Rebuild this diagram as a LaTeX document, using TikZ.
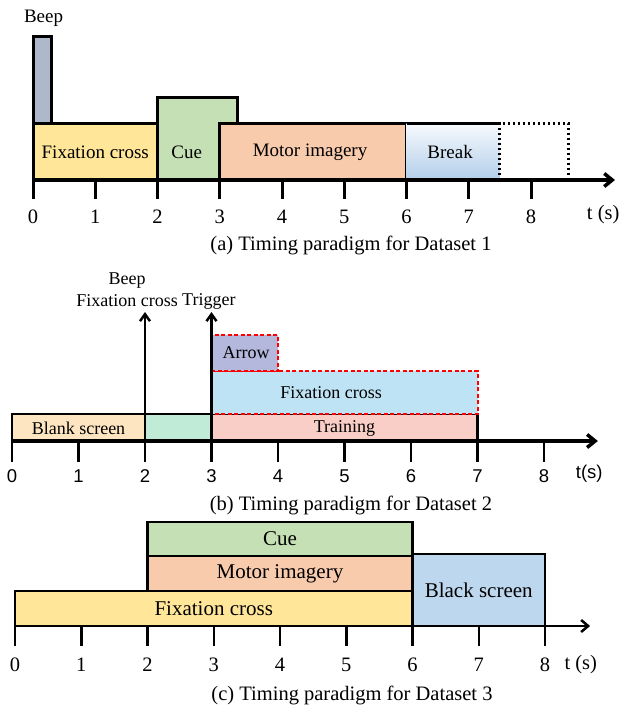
\documentclass[tikz,border=0pt]{standalone}
\usepackage{fontspec}
\setmainfont{Liberation Serif}
\setsansfont{Liberation Sans}
\usetikzlibrary{arrows.meta}

\definecolor{beepgray}{HTML}{ADB9CA}
\definecolor{fixyellow}{HTML}{FFE699}
\definecolor{cuegreen}{HTML}{C5E0B4}
\definecolor{mipeach}{HTML}{F8CBAD}
\definecolor{breakblue}{HTML}{B2CEEA}
\definecolor{blankorange}{HTML}{FDE5C2}
\definecolor{mint}{HTML}{C0EBD6}
\definecolor{trainpink}{HTML}{F8CEC6}
\definecolor{fixblue}{HTML}{BEE3F4}
\definecolor{arrowlav}{HTML}{B3B8DC}
\definecolor{bsblue}{HTML}{BDD7EE}

\begin{document}
\begin{tikzpicture}[%
>={Straight Barb[length=8pt,width=13pt]},
x=1pt, y=-1pt,
lbla/.style={font=\fontsize{19}{22}\selectfont},
lblb/.style={font=\fontsize{18}{22}\selectfont},
lblc/.style={font=\fontsize{21}{24}\selectfont},
ticklbl/.style={font=\fontsize{20.5}{24}\selectfont},
sanslbl/.style={font=\sffamily\fontsize{18.5}{22}\selectfont},
captext/.style={font=\fontsize{20.5}{24}\selectfont},
redbox/.style={draw=red, line width=2pt, dash pattern=on 4pt off 2.5pt}
]

\useasboundingbox (0,0) rectangle (619,705);

% (a) Dataset 1
\begin{scope}[shift={(33pt,-180pt)}, x=62.25pt, y=1pt, line width=3pt]
\filldraw[fill=beepgray] (0,57) rectangle (0.3,144);
\filldraw[fill=fixyellow] (0,0) rectangle (2,57);
\filldraw[fill=cuegreen] (2,0) rectangle (3.28,83);
\filldraw[fill=mipeach] (3,0) rectangle (6,57);
\shade[top color=white!90!breakblue, bottom color=breakblue] (6,0) rectangle (7.5,57);
\draw (6,57) -- (7.5,57);
\draw[dash pattern=on 2.5pt off 2.5pt] (7.5,0) rectangle (8.6,57);

\node[lbla] (a-fix) at (1,28) {Fixation cross};
\node[lbla] (a-cue) at (2.47,28) {Cue};
\node[lbla] (a-mi) at (4.45,28) {Motor imagery};
\node[lbla] (a-brk) at (6.7,28) {Break};
\node[lbla] (a-beep) at (0.17,162) {Beep};

\coordinate (a-o) at (0,0);
\coordinate (a-end) at (9.35,0);
\draw[->, line width=3.5pt] (a-o) -- (a-end);
\foreach \t in {0,...,8} {
  \draw (\t,0) -- (\t,-19);
  \node[ticklbl] (a-t\t) at (\t,-37) {\t};
}
\node[ticklbl] (a-unit) at (9.16,-35) {t (s)};
\end{scope}
\node[captext] (a-cap) at (351,245) {(a) Timing paradigm for Dataset 1};

% (b) Dataset 2
\begin{scope}[shift={(12pt,-441pt)}, x=66.5pt, y=1pt, line width=2.5pt]
\filldraw[fill=blankorange] (0,0) rectangle (2,27);
\filldraw[fill=mint] (2,0) rectangle (3,27);
\filldraw[fill=trainpink] (3,0) rectangle (7,27);
\filldraw[fill=fixblue, redbox] (3,27) rectangle (7,70);
\filldraw[fill=arrowlav, redbox] (3,70) rectangle (4,106);

\node[lblb] (b-blank) at (1,13) {Blank screen};
\node[lblb] (b-train) at (5,13) {Training};
\node[lblb] (b-fix) at (4.8,48) {Fixation cross};
\node[lblb] (b-arrow) at (3.52,88) {Arrow};

\coordinate (b-fc0) at (2,0);
\coordinate (b-fc1) at (2,129);
\coordinate (b-tr0) at (3,0);
\coordinate (b-tr1) at (3,129);
\draw[->, >={Straight Barb[length=7pt,width=10pt]}] (b-fc0) -- (b-fc1);
\draw[->, >={Straight Barb[length=7pt,width=10pt]}] (b-tr0) -- (b-tr1);
\node[lblb, align=center] (b-beep) at (1.73,151) {Beep\\Fixation cross};
\node[lblb] (b-trig) at (2.96,140) {Trigger};

\coordinate (b-o) at (0,0);
\coordinate (b-end) at (8.81,0);
\draw[->, line width=3.5pt] (b-o) -- (b-end);
\foreach \t in {0,...,8} {
  \draw (\t,0) -- (\t,-21);
  \node[sanslbl] (b-t\t) at (\t,-35) {\t};
}
\node[sanslbl] (b-unit) at (8.68,-33) {t(s)};
\end{scope}
\node[captext] (b-cap) at (351,505) {(b) Timing paradigm for Dataset 2};

% (c) Dataset 3
\begin{scope}[shift={(15pt,-626pt)}, x=66.25pt, y=1pt, line width=2.5pt]
\filldraw[fill=fixyellow] (0,0) rectangle (6,35);
\filldraw[fill=mipeach] (2,35) rectangle (6,70);
\filldraw[fill=cuegreen] (2,70) rectangle (6,104);
\filldraw[fill=bsblue] (6,0) rectangle (8,72);

\node[lblc] (c-fix) at (3,17) {Fixation cross};
\node[lblc] (c-mi) at (4,52) {Motor imagery};
\node[lblc] (c-cue) at (4,87) {Cue};
\node[lblc] (c-bs) at (7,36) {Black screen};

\coordinate (c-o) at (0,0);
\coordinate (c-end) at (8.68,0);
\draw[->, >={Straight Barb[length=7pt,width=12pt]}] (c-o) -- (c-end);
\foreach \t in {0,...,8} {
  \draw (\t,0) -- (\t,-20);
  \node[ticklbl] (c-t\t) at (\t,-39) {\t};
}
\node[ticklbl] (c-unit) at (8.54,-39) {t (s)};
\end{scope}
\node[captext] (c-cap) at (352,695) {(c) Timing paradigm for Dataset 3};

\end{tikzpicture}
\end{document}
